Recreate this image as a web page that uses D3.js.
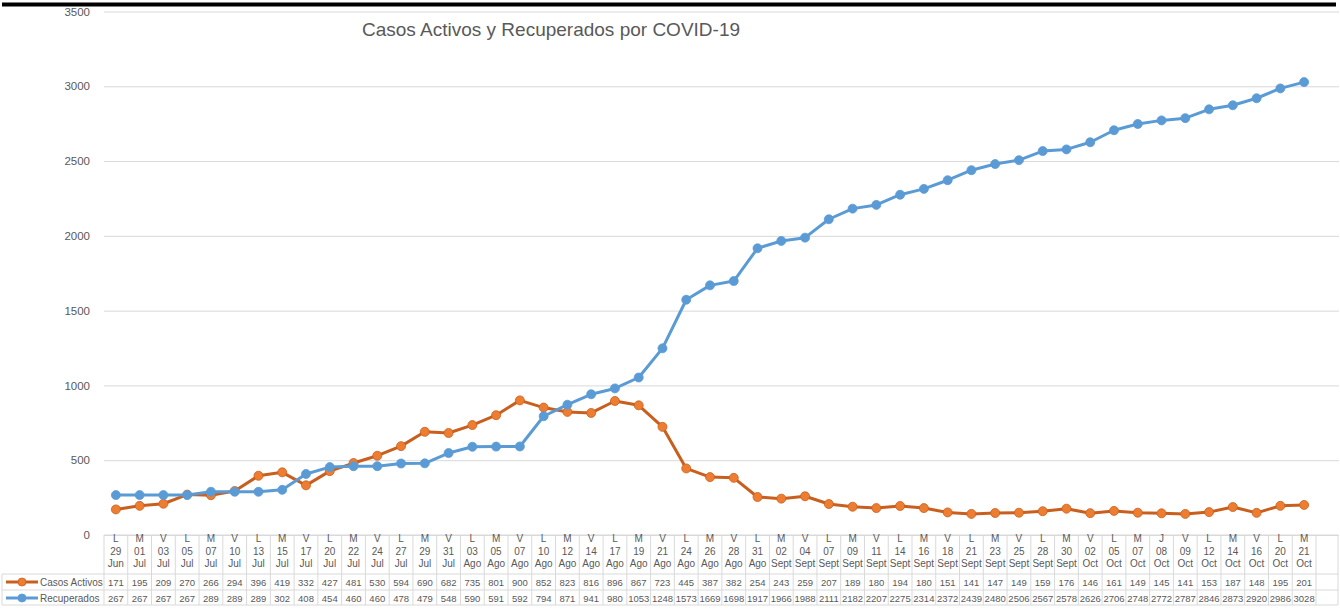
<!DOCTYPE html>
<html>
<head>
<meta charset="utf-8">
<script src="https://cdn.jsdelivr.net/npm/d3@7"></script>
<style>
  body { margin: 0; background: #fff; }
  svg { display: block; font-family: 'Liberation Sans', Arial, sans-serif; }
</style>
</head>
<body>
<div id="chart"></div>
<script>
const days = ['L','M','V','L','M','V','L','M','V','L','M','V','L','M','V','L','M','V','L','M','V','L','M','V','L','M','V','L','M','V','L','M','V','L','M','V','L','M','V','L','M','V','L','M','J','V','L','M','V','L','M']
const dates = ['29','01','03','05','07','10','13','15','17','20','22','24','27','29','31','03','05','07','10','12','14','17','19','21','24','26','28','31','02','04','07','09','11','14','16','18','21','23','25','28','30','02','05','07','08','09','12','14','16','20','21']
const months = ['Jun','Jul','Jul','Jul','Jul','Jul','Jul','Jul','Jul','Jul','Jul','Jul','Jul','Jul','Jul','Ago','Ago','Ago','Ago','Ago','Ago','Ago','Ago','Ago','Ago','Ago','Ago','Ago','Sept','Sept','Sept','Sept','Sept','Sept','Sept','Sept','Sept','Sept','Sept','Sept','Sept','Oct','Oct','Oct','Oct','Oct','Oct','Oct','Oct','Oct','Oct']
const activos = [171,195,209,270,266,294,396,419,332,427,481,530,594,690,682,735,801,900,852,823,816,896,867,723,445,387,382,254,243,259,207,189,180,194,180,151,141,147,149,159,176,146,161,149,145,141,153,187,148,195,201]
const recuperados = [267,267,267,267,289,289,289,302,408,454,460,460,478,479,548,590,591,592,794,871,941,980,1053,1248,1573,1669,1698,1917,1966,1988,2111,2182,2207,2275,2314,2372,2439,2480,2506,2567,2578,2626,2706,2748,2772,2787,2846,2873,2920,2986,3028]
const yTicks = [0, 500, 1000, 1500, 2000, 2500, 3000, 3500]

const series = [
  { name: 'Casos Activos', values: activos, line: '#c95f1e', dot: '#ed7d31' },
  { name: 'Recuperados', values: recuperados, line: '#5b9bd5', dot: '#5b9bd5' }
]

const width = 1340
const height = 609
const plotLeft = 104
const plotRight = 1316
const gridRight = 1339
const textColor = '#595959'
const borderColor = '#d9d9d9'

const svg = d3.select('#chart').append('svg')
  .attr('width', width)
  .attr('height', height)

const x = d3.scaleBand()
  .domain(d3.range(days.length))
  .range([plotLeft, plotRight])

const y = d3.scaleLinear()
  .domain([0, 3500])
  .range([535, 11.5])

// grid + y labels
svg.append('g')
  .attr('transform', `translate(${plotLeft},0)`)
  .call(d3.axisLeft(y).tickValues(yTicks).tickSize(-(gridRight - plotLeft)).tickPadding(14).tickFormat(d3.format('d')))
  .call(g => g.select('.domain').remove())
  .call(g => g.selectAll('.tick line').attr('stroke', borderColor).attr('stroke-width', 1))
  .call(g => g.selectAll('.tick text').attr('fill', textColor).style('font-size', '11.5px'))

// top black bar (drawn over the 3500 label like the original)
svg.append('rect')
  .attr('x', 2).attr('y', 2.5)
  .attr('width', 1334).attr('height', 4)
  .attr('fill', '#000')

svg.append('text')
  .attr('x', 551).attr('y', 36)
  .attr('text-anchor', 'middle')
  .attr('fill', textColor)
  .style('font-size', '19px')
  .text('Casos Activos y Recuperados por COVID-19')

const cx = i => x(i) + x.bandwidth() / 2

// lines
series.forEach(s => {
  const line = d3.line()
    .x((d, i) => cx(i))
    .y(d => y(d))
  svg.append('path')
    .datum(s.values)
    .attr('fill', 'none')
    .attr('stroke', s.line)
    .attr('stroke-width', 3)
    .attr('stroke-linejoin', 'round')
    .attr('d', line)
  svg.append('g')
    .selectAll('circle')
    .data(s.values)
    .join('circle')
    .attr('cx', (d, i) => cx(i))
    .attr('cy', d => y(d))
    .attr('r', 4.5)
    .attr('fill', s.dot)
    .attr('stroke', s.line)
    .attr('stroke-width', 0.8)
})

// data table
const tableTop = 535
const rowTops = [574, 590]
const tableBottom = 605
const lastCol = 1338
const table = svg.append('g')

table.append('line')
  .attr('x1', plotLeft).attr('x2', lastCol)
  .attr('y1', tableTop).attr('y2', tableTop)
  .attr('stroke', borderColor)
rowTops.concat([tableBottom]).forEach(yy => {
  table.append('line')
    .attr('x1', 2).attr('x2', lastCol)
    .attr('y1', yy).attr('y2', yy)
    .attr('stroke', borderColor)
})
const colEdges = d3.range(days.length).map(i => x(i)).concat([plotRight, lastCol])
table.selectAll('line.col')
  .data(colEdges)
  .join('line')
  .attr('class', 'col')
  .attr('x1', d => d).attr('x2', d => d)
  .attr('y1', tableTop).attr('y2', tableBottom)
  .attr('stroke', borderColor)
table.append('line')
  .attr('x1', 2).attr('x2', 2)
  .attr('y1', rowTops[0]).attr('y2', tableBottom)
  .attr('stroke', borderColor)

const header = table.append('g')
  .attr('fill', textColor)
  .attr('text-anchor', 'middle')
  .style('font-size', '10px')
;[days, dates, months].forEach((arr, k) => {
  header.append('g')
    .selectAll('text')
    .data(arr)
    .join('text')
    .attr('x', (d, i) => cx(i))
    .attr('y', 542 + k * 12.5)
    .text(d => d)
})

series.forEach((s, r) => {
  const base = rowTops[r] + 12
  table.append('g')
    .attr('fill', textColor)
    .attr('text-anchor', 'middle')
    .style('font-size', '9.5px')
    .selectAll('text')
    .data(s.values)
    .join('text')
    .attr('x', (d, i) => cx(i))
    .attr('y', base)
    .text(d => d)

  const my = rowTops[r] + 8
  table.append('line')
    .attr('x1', 6).attr('x2', 38)
    .attr('y1', my).attr('y2', my)
    .attr('stroke', s.line).attr('stroke-width', 3)
  table.append('circle')
    .attr('cx', 22).attr('cy', my).attr('r', 4)
    .attr('fill', s.dot).attr('stroke', s.line).attr('stroke-width', 0.8)
  table.append('text')
    .attr('x', 40).attr('y', base)
    .attr('fill', textColor)
    .style('font-size', '10px')
    .text(s.name)
})
</script>
</body>
</html>
